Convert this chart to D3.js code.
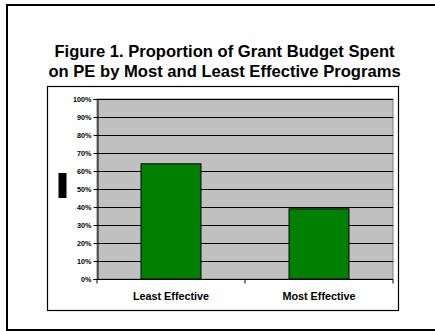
<!DOCTYPE html>
<html>
<head>
<meta charset="utf-8">
<script src="https://cdn.jsdelivr.net/npm/d3@7"></script>
<style>
  html, body { margin: 0; padding: 0; background: #fff; }
  svg { display: block; font-family: "Liberation Sans", Arial, sans-serif; }
</style>
</head>
<body>
<svg id="chart" width="435" height="331"></svg>
<script>
// Chart data
const titleLines = ["Figure 1. Proportion of Grant Budget Spent", "on PE by Most and Least Effective Programs"];
const categories = ["Least Effective", "Most Effective"];
const values = [0.64, 0.39];
const yTicks = [0, 0.1, 0.2, 0.3, 0.4, 0.5, 0.6, 0.7, 0.8, 0.9, 1.0];

const svg = d3.select("#chart");

// Outer frame (right side runs past the window edge)
svg.append("rect")
  .attr("x", 7).attr("y", 5).attr("width", 440).attr("height", 325)
  .attr("fill", "none").attr("stroke", "#000").attr("stroke-width", 2);

// Title
svg.append("g").selectAll("text")
  .data(titleLines)
  .join("text")
  .attr("x", 224.5)
  .attr("y", (d, i) => 56.7 + i * 20)
  .attr("text-anchor", "middle")
  .attr("font-weight", "bold")
  .attr("font-size", 16.6)
  .attr("fill", "#000")
  .text(d => d);

// Chart box
svg.append("rect")
  .attr("x", 47.5).attr("y", 86.5).attr("width", 351).attr("height", 224)
  .attr("fill", "#fff").attr("stroke", "#000").attr("stroke-width", 1.2);

// Plot area
const plot = { left: 97, right: 393, top: 99, bottom: 279 };

const x = d3.scaleBand()
  .domain(categories)
  .range([plot.left, plot.right])
  .paddingInner(0.595)
  .paddingOuter(0.2975);

const y = d3.scaleLinear()
  .domain([0, 1])
  .range([plot.bottom, plot.top]);

svg.append("rect")
  .attr("x", plot.left).attr("y", plot.top)
  .attr("width", plot.right - plot.left).attr("height", plot.bottom - plot.top)
  .attr("fill", "#c0c0c0").attr("stroke", "#808080").attr("stroke-width", 1);

// Gridlines
svg.append("g").selectAll("line")
  .data(yTicks.filter(t => t > 0))
  .join("line")
  .attr("x1", plot.left).attr("x2", plot.right)
  .attr("y1", d => Math.round(y(d)) + 0.5).attr("y2", d => Math.round(y(d)) + 0.5)
  .attr("stroke", "#000").attr("stroke-width", 1);

// Bars
svg.append("g").selectAll("rect")
  .data(categories)
  .join("rect")
  .attr("x", d => x(d))
  .attr("y", (d, i) => y(values[i]))
  .attr("width", x.bandwidth())
  .attr("height", (d, i) => y(0) - y(values[i]))
  .attr("fill", "#008000")
  .attr("stroke", "#000")
  .attr("stroke-width", 1);

// Y axis
const yAxis = svg.append("g")
  .attr("transform", `translate(${plot.left + 0.5},0)`)
  .call(d3.axisLeft(y).tickValues(yTicks).tickFormat(d3.format(".0%")).tickSize(4).tickPadding(2));
yAxis.select(".domain").attr("stroke", "#000");
yAxis.selectAll(".tick line").attr("stroke", "#000");
yAxis.selectAll(".tick text")
  .attr("font-family", "'Liberation Sans', Arial, sans-serif")
  .attr("font-size", 7.2)
  .attr("font-weight", "bold")
  .attr("fill", "#000");

// X axis: ticks sit on the category boundaries
const xAxisG = svg.append("g")
  .attr("transform", `translate(0,${plot.bottom + 0.5})`);
xAxisG.append("line")
  .attr("x1", plot.left).attr("x2", plot.right)
  .attr("stroke", "#000").attr("stroke-width", 1);
const boundaries = [plot.left, (plot.left + plot.right) / 2, plot.right];
xAxisG.selectAll("line.tick")
  .data(boundaries)
  .join("line")
  .attr("class", "tick")
  .attr("x1", d => d).attr("x2", d => d)
  .attr("y1", 0).attr("y2", 4)
  .attr("stroke", "#000");
xAxisG.selectAll("text")
  .data(categories)
  .join("text")
  .attr("x", d => x(d) + x.bandwidth() / 2)
  .attr("y", 20)
  .attr("text-anchor", "middle")
  .attr("font-weight", "bold")
  .attr("font-size", 10.8)
  .attr("fill", "#000")
  .text(d => d);

// Axis title marker
svg.append("rect")
  .attr("x", 58.5).attr("y", 173).attr("width", 8).attr("height", 25)
  .attr("fill", "#000");
</script>
</body>
</html>
